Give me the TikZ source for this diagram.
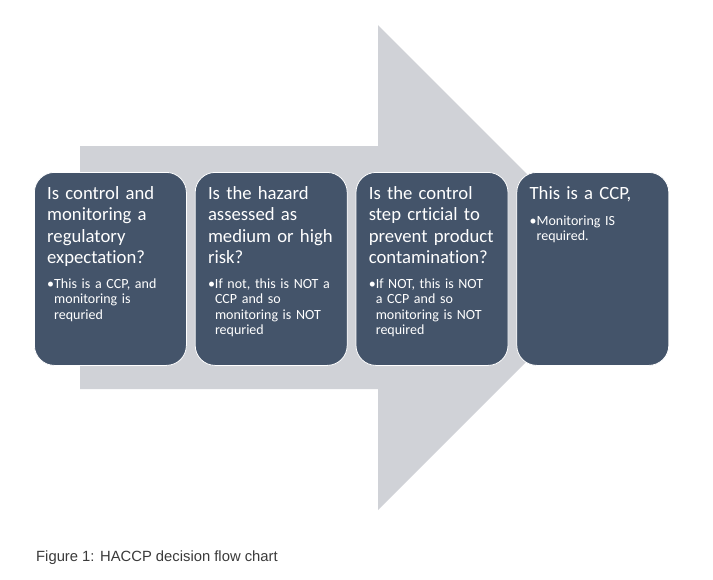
\documentclass[tikz,border=0pt]{standalone}
\usepackage{fontspec}
\setmainfont{Carlito}[Ligatures=NoCommon]
\newfontfamily\capfont{Liberation Sans}
\usetikzlibrary{positioning}
\definecolor{slate}{HTML}{44546A}
\definecolor{shaft}{RGB}{208,210,215}
\definecolor{captext}{HTML}{3A3A3A}

\begin{document}
\begin{tikzpicture}[x=1pt, y=-1pt,
    stepbox/.style={draw=white, line width=0.8pt, fill=slate, rounded corners=20pt,
      minimum width=152pt, minimum height=193pt, inner sep=0pt, anchor=north west},
    head/.style={text=white, text width=145pt, align=left, inner sep=0pt, anchor=base west,
      font=\fontsize{18.7}{21.5}\selectfont},
    note/.style={text=white, text width=145pt, align=left, inner sep=0pt, anchor=base west,
      font=\fontsize{14}{15.6}\selectfont}]
  \useasboundingbox (0,0) rectangle (713,579);
  \fill[shaft] (80,146) coordinate (ASW) -- (378,146) -- (378,25) -- (620.5,267.5) coordinate (TIP)
    -- (378,510) -- (378,389) -- (80,389) -- cycle;
  \node[stepbox] (S1) at (34,172) {};
  \node[stepbox, right=8pt of S1] (S2) {};
  \node[stepbox, right=8pt of S2] (S3) {};
  \node[stepbox, right=8pt of S3] (S4) {};
  \node[head] (H1) at ([shift={(13pt,-27pt)}]S1.north west)
    {Is control and\\monitoring a\\regulatory\\expectation?};
  \node[head] (H2) at ([shift={(13pt,-27pt)}]S2.north west)
    {Is the hazard\\assessed as\\medium or high\\risk?};
  \node[head] (H3) at ([shift={(13pt,-27pt)}]S3.north west)
    {Is the control\\step crticial to\\prevent product\\contamination?};
  \node[head] (H4) at ([shift={(13pt,-27pt)}]S4.north west) {This is a CCP,};
  \node[note] (B1) at ([shift={(13pt,-116pt)}]S1.north west)
    {\textbullet This is a CCP, and\\\hspace*{7pt}monitoring is\\\hspace*{7pt}requried};
  \node[note] (B2) at ([shift={(13pt,-116pt)}]S2.north west)
    {\textbullet If not, this is NOT a\\\hspace*{7pt}CCP and so\\\hspace*{7pt}monitoring is NOT\\\hspace*{7pt}requried};
  \node[note] (B3) at ([shift={(13pt,-116pt)}]S3.north west)
    {\textbullet If NOT, this is NOT\\\hspace*{7pt}a CCP and so\\\hspace*{7pt}monitoring is NOT\\\hspace*{7pt}required};
  \node[note] (B4) at ([shift={(13pt,-53pt)}]S4.north west)
    {\textbullet Monitoring IS\\\hspace*{7pt}required.};
  \node[anchor=base west, inner sep=0pt, text=captext, font=\capfont\fontsize{14.8}{17}\selectfont]
    (CAP) at (36,561) {Figure 1: HACCP decision flow chart};
\end{tikzpicture}
\end{document}
